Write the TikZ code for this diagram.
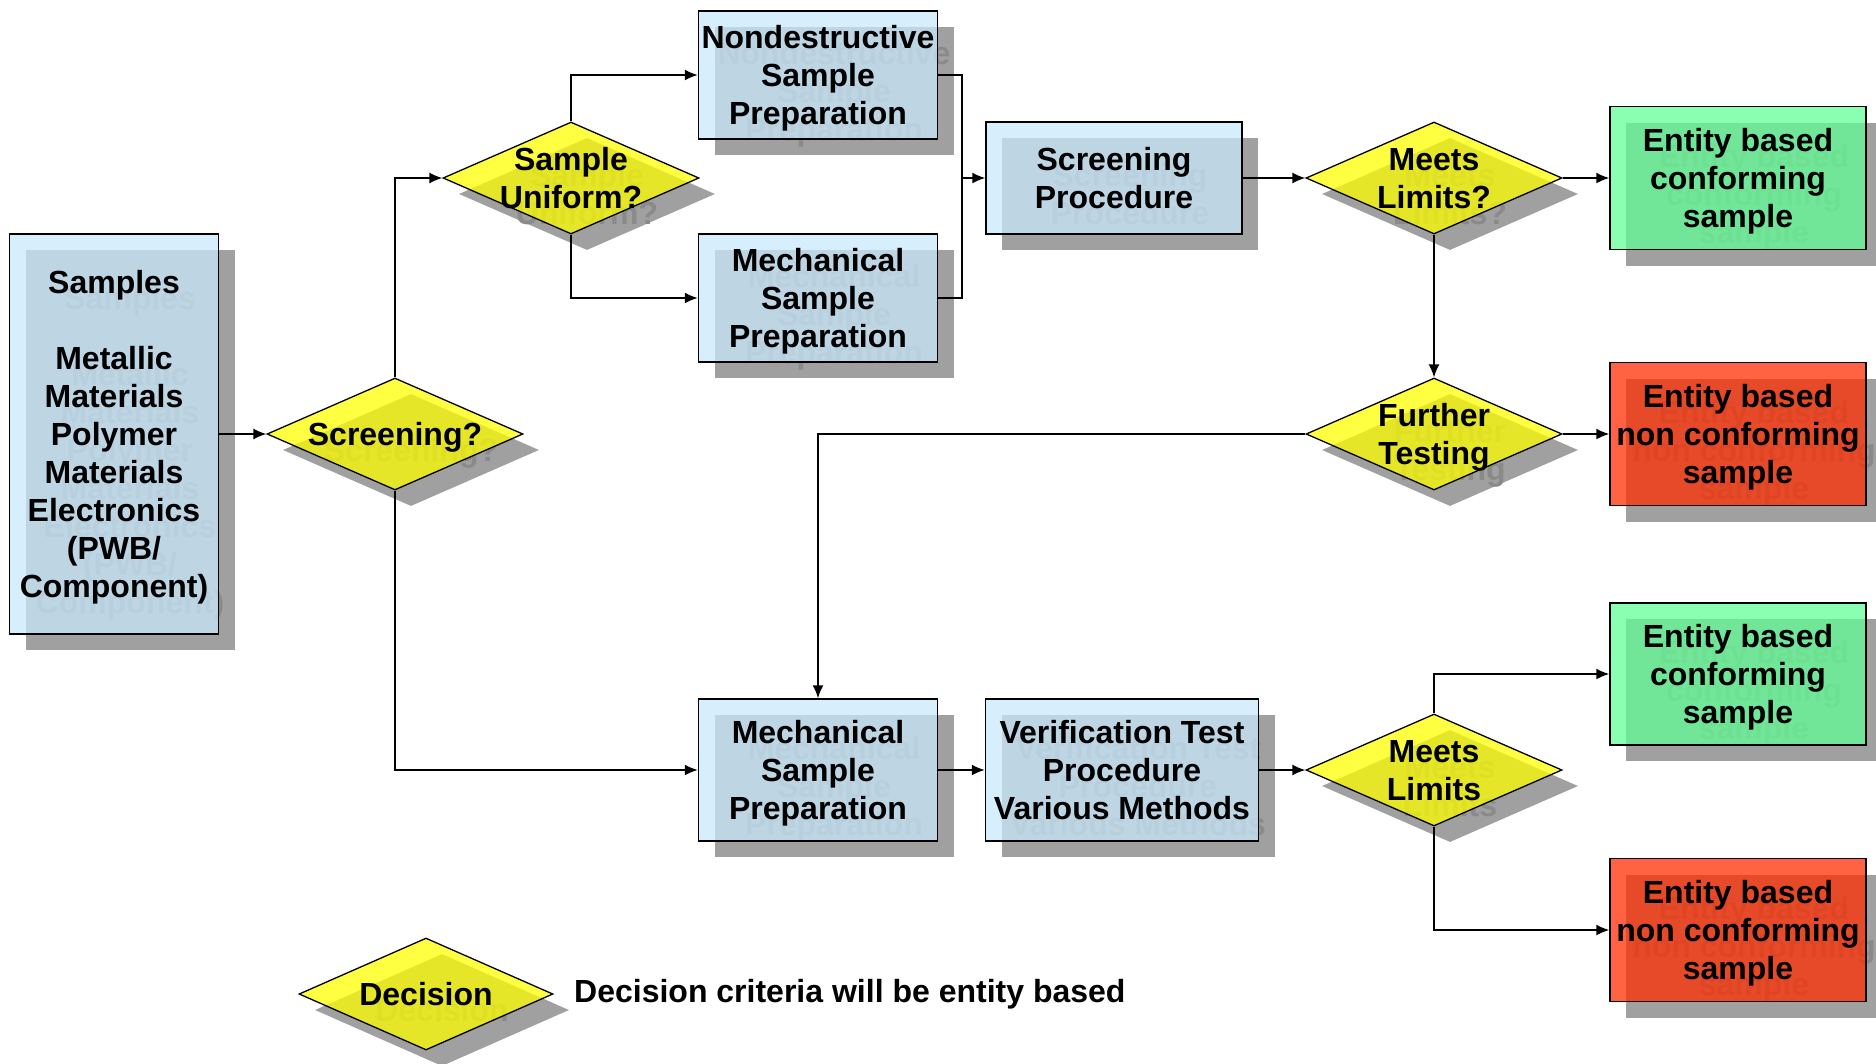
\documentclass[tikz,border=0pt]{standalone}
\usepackage{fontspec}
\setmainfont{Liberation Sans}
\usetikzlibrary{shapes.geometric, arrows.meta}

\definecolor{boxblue}{RGB}{201,232,251}
\definecolor{boxgreen}{RGB}{99,255,150}
\definecolor{boxred}{RGB}{255,45,0}
\definecolor{boxyellow}{RGB}{255,255,0}
\definecolor{shadowgray}{RGB}{160,160,160}
\definecolor{ghostgray}{RGB}{138,138,138}

\begin{document}
\begin{tikzpicture}[x = 1pt, y = -1pt, > = {Latex[length = 13pt, width = 11pt]},
	every node/.style = {font = \bfseries\fontsize{32}{38}\selectfont, align = center, inner sep = 0pt},
	textlines/.style = {text height = #1, text depth = 7pt},
	boxsize/.style 2 args = {minimum width = #1, minimum height = #2},
	proc/.style = {draw, line width = 1.5pt, fill opacity = 0.74, text opacity = 1},
	procshadow/.style = {fill = shadowgray, text = ghostgray},
	decision/.style = {shape = diamond, draw, line width = 1.3pt, fill = boxyellow, fill opacity = 0.74, boxsize = {256pt}{112pt}},
	dshadow/.style = {shape = diamond, fill = shadowgray, boxsize = {256pt}{112pt}},
	dtext/.style = {align = center, text opacity = 1},
	dghost/.style = {align = center, text = ghostgray},
	link/.style = {->, line width = 1.5pt}]

	\useasboundingbox (0, 0) rectangle (1876, 1063);

	% Shadows (drawn first, with the text in gray)

	\node [procshadow, boxsize = {209pt}{400pt}, textlines = 333pt] (samples-s) at (130, 450) {Samples\\[38pt]Metallic\\Materials\\Polymer\\Materials\\Electronics\\(PWB/\\Component)};
	\node [dshadow, label = {[dghost, textlines = 29pt]center:Screening?}] (screen-s) at (411, 450) {};
	\node [dshadow, label = {[dghost, textlines = 67pt]center:{Sample\\Uniform?}}] (uniform-s) at (587, 194) {};
	\node [procshadow, boxsize = {239pt}{128pt}, textlines = 105pt] (ndsp-s) at (834, 91) {Nondestructive\\Sample\\Preparation};
	\node [procshadow, boxsize = {239pt}{128pt}, textlines = 105pt] (msp-s) at (834, 314) {Mechanical\\Sample\\Preparation};
	\node [procshadow, boxsize = {256pt}{112pt}, textlines = 67pt] (sproc-s) at (1130, 194) {Screening\\Procedure};
	\node [dshadow, label = {[dghost, textlines = 67pt]center:{Meets\\Limits?}}] (meets-s) at (1450, 194) {};
	\node [procshadow, boxsize = {256pt}{143pt}, textlines = 105pt] (conf-s) at (1754, 194) {Entity based\\conforming\\sample};
	\node [dshadow, label = {[dghost, textlines = 67pt]center:{Further\\Testing}}] (further-s) at (1450, 450) {};
	\node [procshadow, boxsize = {256pt}{143pt}, textlines = 105pt] (nconf-s) at (1754, 450) {Entity based\\non conforming\\sample};
	\node [procshadow, boxsize = {239pt}{142pt}, textlines = 105pt] (mspb-s) at (834, 786) {Mechanical\\Sample\\Preparation};
	\node [procshadow, boxsize = {273pt}{142pt}, textlines = 105pt] (verif-s) at (1138, 786) {Verification Test\\Procedure\\Various Methods};
	\node [dshadow, label = {[dghost, textlines = 67pt]center:{Meets\\Limits}}] (meetsb-s) at (1450, 786) {};
	\node [procshadow, boxsize = {256pt}{142pt}, textlines = 105pt] (confb-s) at (1754, 690) {Entity based\\conforming\\sample};
	\node [procshadow, boxsize = {256pt}{143pt}, textlines = 105pt] (nconfb-s) at (1754, 946) {Entity based\\non conforming\\sample};
	\node [dshadow, minimum width = 254pt, label = {[dghost, textlines = 29pt]center:Decision}] (key-s) at (442, 1010) {};

	% Sample side and screening branch

	\node [proc, fill = boxblue, boxsize = {209pt}{400pt}, textlines = 333pt] (samples) at (114, 434) {Samples\\[38pt]Metallic\\Materials\\Polymer\\Materials\\Electronics\\(PWB/\\Component)};
	\node [decision, label = {[dtext, textlines = 29pt]center:Screening?}] (screen) at (395, 434) {};
	\node [decision, label = {[dtext, textlines = 67pt]center:{Sample\\Uniform?}}] (uniform) at (571, 178) {};
	\node [proc, fill = boxblue, boxsize = {239pt}{128pt}, textlines = 105pt] (ndsp) at (818, 75) {Nondestructive\\Sample\\Preparation};
	\node [proc, fill = boxblue, boxsize = {239pt}{128pt}, textlines = 105pt] (msp) at (818, 298) {Mechanical\\Sample\\Preparation};
	\node [proc, fill = boxblue, boxsize = {256pt}{112pt}, textlines = 67pt] (sproc) at (1114, 178) {Screening\\Procedure};

	% Outcomes of the screening

	\node [decision, label = {[dtext, textlines = 67pt]center:{Meets\\Limits?}}] (meets) at (1434, 178) {};
	\node [proc, fill = boxgreen, boxsize = {256pt}{143pt}, textlines = 105pt] (conf) at (1738, 178) {Entity based\\conforming\\sample};
	\node [decision, label = {[dtext, textlines = 67pt]center:{Further\\Testing}}] (further) at (1434, 434) {};
	\node [proc, fill = boxred, boxsize = {256pt}{143pt}, textlines = 105pt] (nconf) at (1738, 434) {Entity based\\non conforming\\sample};

	% Verification branch

	\node [proc, fill = boxblue, boxsize = {239pt}{142pt}, textlines = 105pt] (mspb) at (818, 770) {Mechanical\\Sample\\Preparation};
	\node [proc, fill = boxblue, boxsize = {273pt}{142pt}, textlines = 105pt] (verif) at (1122, 770) {Verification Test\\Procedure\\Various Methods};
	\node [decision, label = {[dtext, textlines = 67pt]center:{Meets\\Limits}}] (meetsb) at (1434, 770) {};
	\node [proc, fill = boxgreen, boxsize = {256pt}{142pt}, textlines = 105pt] (confb) at (1738, 674) {Entity based\\conforming\\sample};
	\node [proc, fill = boxred, boxsize = {256pt}{143pt}, textlines = 105pt] (nconfb) at (1738, 930) {Entity based\\non conforming\\sample};

	% Key

	\node [decision, minimum width = 254pt, label = {[dtext, textlines = 29pt]center:Decision}] (key) at (426, 994) {};
	\node [anchor = west, textlines = 29pt] (keytext) at (574, 991) {Decision criteria will be entity based};

	% Connectors

	\coordinate (merge) at (962, 178);

	\draw [link] (samples) -- (screen);
	\draw [link] (screen.north) |- (uniform.west);
	\draw [link] (screen.south) |- (mspb.west);
	\draw [link] (uniform.north) |- (ndsp.west);
	\draw [link] (uniform.south) |- (msp.west);
	\draw [line width = 1.5pt] (ndsp.east) -| (merge);
	\draw [line width = 1.5pt] (msp.east) -| (merge);
	\draw [link] (merge) -- (sproc.west);
	\draw [link] (sproc) -- (meets);
	\draw [link] (meets) -- (conf);
	\draw [link] (meets) -- (further);
	\draw [link] (further) -- (nconf);
	\draw [link] (further.west) -| (mspb.north);
	\draw [link] (mspb) -- (verif);
	\draw [link] (verif) -- (meetsb);
	\draw [link] (meetsb.north) |- (confb.west);
	\draw [link] (meetsb.south) |- (nconfb.west);

\end{tikzpicture}
\end{document}
